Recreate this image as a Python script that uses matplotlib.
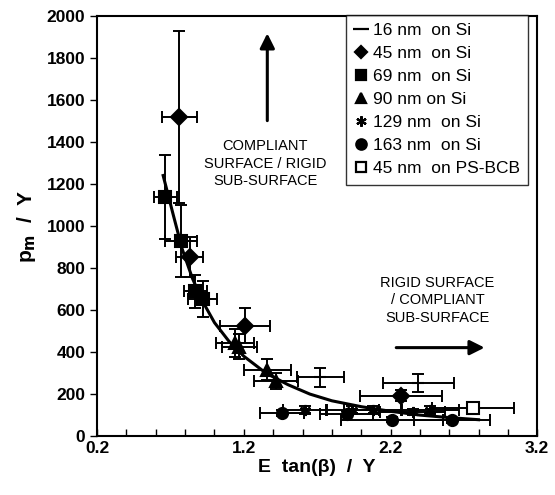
import matplotlib.pyplot as plt
from matplotlib.lines import Line2D

plt.rcParams['font.family'] = ['Liberation Sans', 'DejaVu Sans']

# 16 nm on Si
x16 = [1.72, 2.39]
y16 = [280, 253]
xe16 = [0.16, 0.24]
ye16 = [45, 43]

# 45 nm on Si
x45 = [0.76, 0.83, 1.21, 2.27]
y45 = [1520, 852, 526, 192]
xe45 = [0.12, 0.09, 0.17, 0.28]
ye45 = [410, 95, 82, 25]

# 69 nm on Si
x69 = [0.665, 0.77, 0.87, 0.92]
y69 = [1140, 928, 689, 651]
xe69 = [0.08, 0.11, 0.08, 0.10]
ye69 = [200, 170, 80, 85]

# 90 nm on Si
x90 = [1.14, 1.17, 1.36, 1.42]
y90 = [445, 425, 316, 263]
xe90 = [0.13, 0.12, 0.16, 0.15]
ye90 = [67, 60, 50, 38]

# 129 nm on Si
x129 = [1.62, 1.94, 2.08, 2.35, 2.47]
y129 = [124, 124, 124, 115, 124]
xe129 = [0.15, 0.18, 0.2, 0.22, 0.2]
ye129 = [20, 18, 18, 15, 18]

# 163 nm on Si
x163 = [1.46, 1.90, 2.21, 2.62]
y163 = [110, 105, 77, 75]
xe163 = [0.15, 0.18, 0.35, 0.26]
ye163 = [15, 15, 12, 12]

# 45 nm on PS-BCB
xps = [2.76]
yps = [132]
xeps = [0.28]
yeps = [20]

# fitted curve
xfit = [0.65, 0.72, 0.78, 0.85, 0.92, 1.0, 1.1, 1.2, 1.35, 1.5, 1.65, 1.8, 2.0, 2.2, 2.4, 2.6, 2.8]
yfit = [1240, 1050, 890, 750, 640, 540, 450, 380, 300, 245, 200, 168, 140, 118, 100, 88, 78]

fig = plt.figure(figsize=(5.55, 4.95), dpi=100)
ax = fig.add_axes([0.175, 0.119, 0.793, 0.849])

ax.plot(xfit, yfit, color='black', linewidth=2.2, zorder=3)

series = [
    (x16, y16, xe16, ye16, '_', 'black'),
    (x45, y45, xe45, ye45, 'D', 'black'),
    (x69, y69, xe69, ye69, 's', 'black'),
    (x90, y90, xe90, ye90, '^', 'black'),
    (x129, y129, xe129, ye129, (6, 2, 0), 'black'),
    (x163, y163, xe163, ye163, 'o', 'black'),
    (xps, yps, xeps, yeps, 's', 'white'),
]
for xs, ys, xe, ye, mk, fc in series:
    ax.errorbar(xs, ys, xerr=xe, yerr=ye, fmt='none', ecolor='black',
                elinewidth=1.4, capsize=4, capthick=1.4, zorder=2)
    ax.plot(xs, ys, linestyle='none', marker=mk, markersize=8, markerfacecolor=fc,
            markeredgecolor='black', markeredgewidth=1.5, zorder=4)

ax.set_xlim(0.2, 3.2)
ax.set_ylim(0, 2000)
ax.set_xticks([0.2, 1.2, 2.2, 3.2])
ax.set_xticks([0.4, 0.6, 0.8, 1.0, 1.4, 1.6, 1.8, 2.0, 2.4, 2.6, 2.8, 3.0], minor=True)
ax.set_yticks(range(0, 2001, 200))
ax.tick_params(axis='x', which='both', direction='in', length=5, width=1)
ax.tick_params(axis='y', direction='out', length=5, width=1)
for lab in ax.get_xticklabels() + ax.get_yticklabels():
    lab.set_fontsize(12.5)
    lab.set_fontweight('bold')
for sp in ax.spines.values():
    sp.set_linewidth(1.5)

ax.set_xlabel('E  tan(β)  /  Y', fontsize=14, fontweight='bold', labelpad=2)
ax.set_ylabel('p$_\\mathbf{m}$  /  Y', fontsize=15, fontweight='bold', labelpad=6)

# annotations
ax.text(1.345, 1297, 'COMPLIANT\nSURFACE / RIGID\nSUB-SURFACE', ha='center', va='center',
        fontsize=10.5, linespacing=1.3)
ax.annotate('', xy=(1.36, 1930), xytext=(1.36, 1488),
            arrowprops=dict(arrowstyle='-|>', color='black', lw=2.2, mutation_scale=22))
ax.text(2.52, 646, 'RIGID SURFACE\n/ COMPLIANT\nSUB-SURFACE', ha='center', va='center',
        fontsize=10.5, linespacing=1.3)
ax.annotate('', xy=(2.86, 421), xytext=(2.22, 421),
            arrowprops=dict(arrowstyle='-|>', color='black', lw=2.2, mutation_scale=22))

labels = ['16 nm  on Si', '45 nm  on Si', '69 nm  on Si', '90 nm on Si',
          '129 nm  on Si', '163 nm  on Si', '45 nm  on PS-BCB']
markers = ['_', 'D', 's', '^', (6, 2, 0), 'o', 's']
faces = ['black'] * 6 + ['white']
sizes = [11, 6.5, 7.5, 7.5, 7.5, 7.5, 7.5]
handles = [Line2D([], [], linestyle='none', marker=m, markersize=s, markerfacecolor=f,
                  markeredgecolor='black', markeredgewidth=1.6)
           for m, f, s in zip(markers, faces, sizes)]
leg = ax.legend(handles, labels, loc='upper right', bbox_to_anchor=(0.98, 1.003),
                frameon=True, fancybox=False, edgecolor='black', fontsize=12.5,
                handlelength=0.7, handletextpad=0.35, labelspacing=0.45,
                borderpad=0.5, borderaxespad=0)
leg.get_frame().set_linewidth(1.0)

fig.savefig('out.png', dpi=100)
